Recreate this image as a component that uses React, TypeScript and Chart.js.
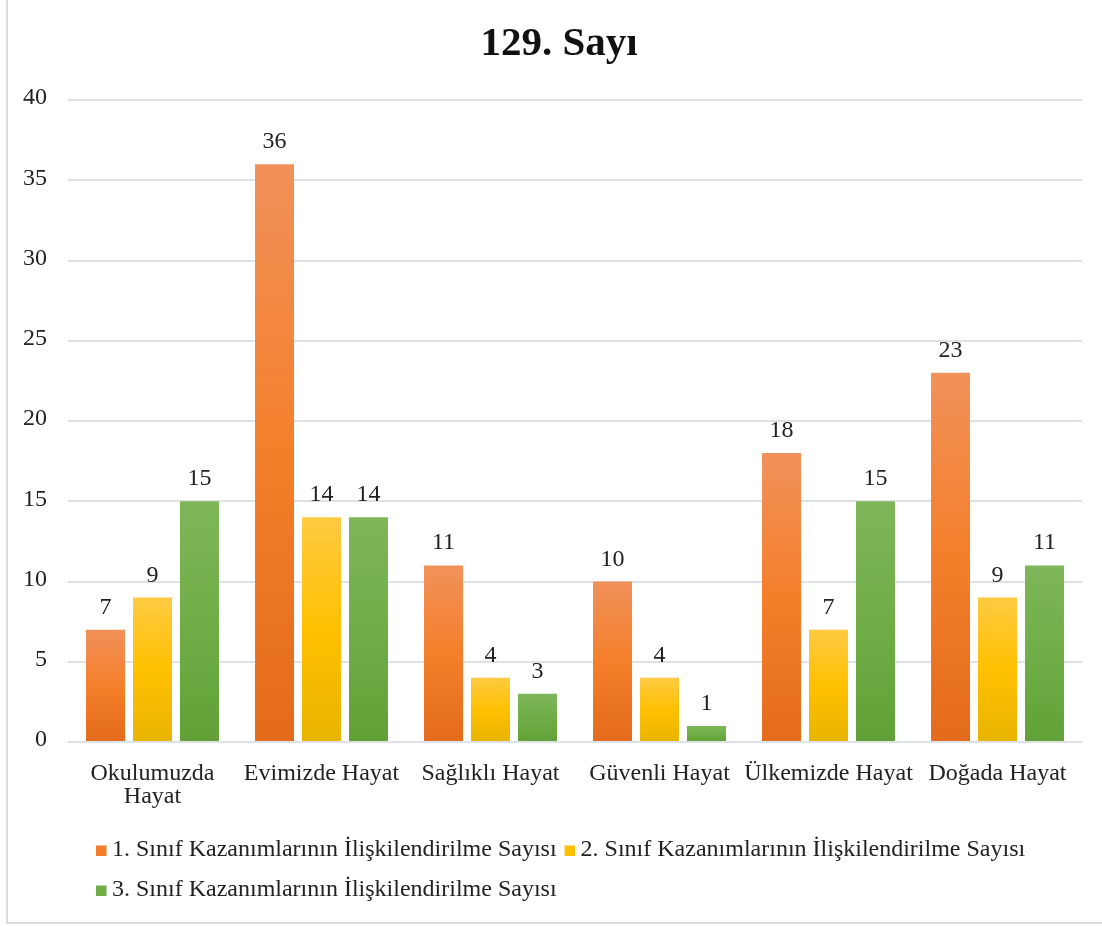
import React, { useEffect, useRef } from 'react';
import { Chart, registerables } from 'chart.js';

Chart.register(...registerables);

const TITLE = '129. Sayı';
const categories: (string | string[])[] = [
  ['Okulumuzda', 'Hayat'],
  'Evimizde Hayat',
  'Sağlıklı Hayat',
  'Güvenli Hayat',
  'Ülkemizde Hayat',
  'Doğada Hayat',
];
const seriesNames = [
  '1. Sınıf Kazanımlarının İlişkilendirilme Sayısı',
  '2. Sınıf Kazanımlarının İlişkilendirilme Sayısı',
  '3. Sınıf Kazanımlarının İlişkilendirilme Sayısı',
];
const grade1 = [7, 36, 11, 10, 18, 23];
const grade2 = [9, 14, 4, 4, 7, 9];
const grade3 = [15, 14, 3, 1, 15, 11];
const yMin = 0;
const yMax = 40;
const yStep = 5;

const orangeStops = ['#F1915A', '#F47F2A', '#E36B1C'];
const yellowStops = ['#FFCA42', '#FFC000', '#E8B400'];
const greenStops = ['#7EB659', '#70AD47', '#61A137'];

const FONT = '"Liberation Serif", "Times New Roman", serif';
const TEXT = '#222222';
const GRID = '#DDE2E8';

const makeFill = (stops: string[]) => (c: any) => {
  const chart = c.chart;
  const ys = chart.scales && chart.scales.y;
  if (c.type !== 'data' || !ys) return stops[1];
  const top = ys.getPixelForValue(c.raw);
  const bot = ys.getPixelForValue(0);
  if (!isFinite(top) || !isFinite(bot) || top === bot) return stops[1];
  const g = chart.ctx.createLinearGradient(0, top, 0, bot);
  g.addColorStop(0, stops[0]);
  g.addColorStop(0.5, stops[1]);
  g.addColorStop(1, stops[2]);
  return g;
};

const decorPlugin = {
  id: 'decor',
  afterDatasetsDraw(chart: any) {
    const ctx = chart.ctx as CanvasRenderingContext2D;
    ctx.save();
    ctx.fillStyle = TEXT;
    ctx.font = `24px ${FONT}`;
    ctx.textAlign = 'center';
    ctx.textBaseline = 'alphabetic';
    chart.data.datasets.forEach((ds: any, di: number) => {
      const meta = chart.getDatasetMeta(di);
      meta.data.forEach((bar: any, i: number) => {
        ctx.fillText(String(ds.data[i]), bar.x, bar.y - 16);
      });
    });
    ctx.restore();
  },
  afterDraw(chart: any) {
    const ctx = chart.ctx as CanvasRenderingContext2D;
    ctx.save();
    // frame
    ctx.strokeStyle = '#D9DDE2';
    ctx.lineWidth = 2;
    ctx.beginPath();
    ctx.moveTo(7, 0);
    ctx.lineTo(7, 923);
    ctx.lineTo(1102, 923);
    ctx.stroke();
    // title
    ctx.fillStyle = '#111111';
    ctx.font = `bold 41px ${FONT}`;
    ctx.textAlign = 'center';
    ctx.textBaseline = 'alphabetic';
    ctx.fillText(TITLE, 559, 55);
    // legend
    ctx.font = `24px ${FONT}`;
    ctx.textAlign = 'left';
    const colors = [orangeStops[1], yellowStops[1], greenStops[1]];
    const w1 = ctx.measureText(seriesNames[0]).width;
    const positions = [
      { x: 96, y: 856 },
      { x: 96 + 16 + w1 + 8, y: 856 },
      { x: 96, y: 896 },
    ];
    positions.forEach((p, i) => {
      ctx.fillStyle = colors[i];
      ctx.fillRect(p.x, p.y - 10.5, 10.5, 10.5);
      ctx.fillStyle = TEXT;
      ctx.fillText(seriesNames[i], p.x + 16, p.y);
    });
    ctx.restore();
  },
};

export default function App() {
  const ref = useRef<HTMLCanvasElement | null>(null);

  useEffect(() => {
    if (!ref.current) return;
    const chart = new Chart(ref.current, {
      type: 'bar',
      data: {
        labels: categories as any,
        datasets: [
          { label: seriesNames[0], data: grade1, backgroundColor: makeFill(orangeStops) as any },
          { label: seriesNames[1], data: grade2, backgroundColor: makeFill(yellowStops) as any },
          { label: seriesNames[2], data: grade3, backgroundColor: makeFill(greenStops) as any },
        ],
      },
      options: {
        responsive: false,
        animation: false,
        layout: { padding: { left: 0, right: 20, top: 100, bottom: 0 } },
        datasets: {
          bar: { categoryPercentage: 0.834, barPercentage: 0.83 },
        } as any,
        plugins: {
          legend: { display: false },
          title: { display: false },
          tooltip: { enabled: false },
        },
        scales: {
          x: {
            grid: { display: false },
            border: { display: false },
            ticks: {
              color: TEXT,
              font: { family: FONT, size: 24, lineHeight: 0.975 },
              padding: 12,
              maxRotation: 0,
              minRotation: 0,
              autoSkip: false,
            },
            afterFit: (s: any) => {
              s.height = 184;
            },
          },
          y: {
            min: yMin,
            max: yMax,
            grid: { color: GRID, lineWidth: 2, drawTicks: false },
            border: { display: false },
            ticks: {
              stepSize: yStep,
              color: TEXT,
              font: { family: FONT, size: 24 },
              padding: 21,
              labelOffset: -2,
            },
            afterFit: (s: any) => {
              s.width = 68;
            },
          },
        },
      },
      plugins: [decorPlugin],
    });
    return () => chart.destroy();
  }, []);

  return (
    <div style={{ position: 'absolute', left: 0, top: 0, width: 1102, height: 926, background: '#fff' }}>
      <canvas ref={ref} width={1102} height={926} style={{ display: 'block' }} />
    </div>
  );
}
